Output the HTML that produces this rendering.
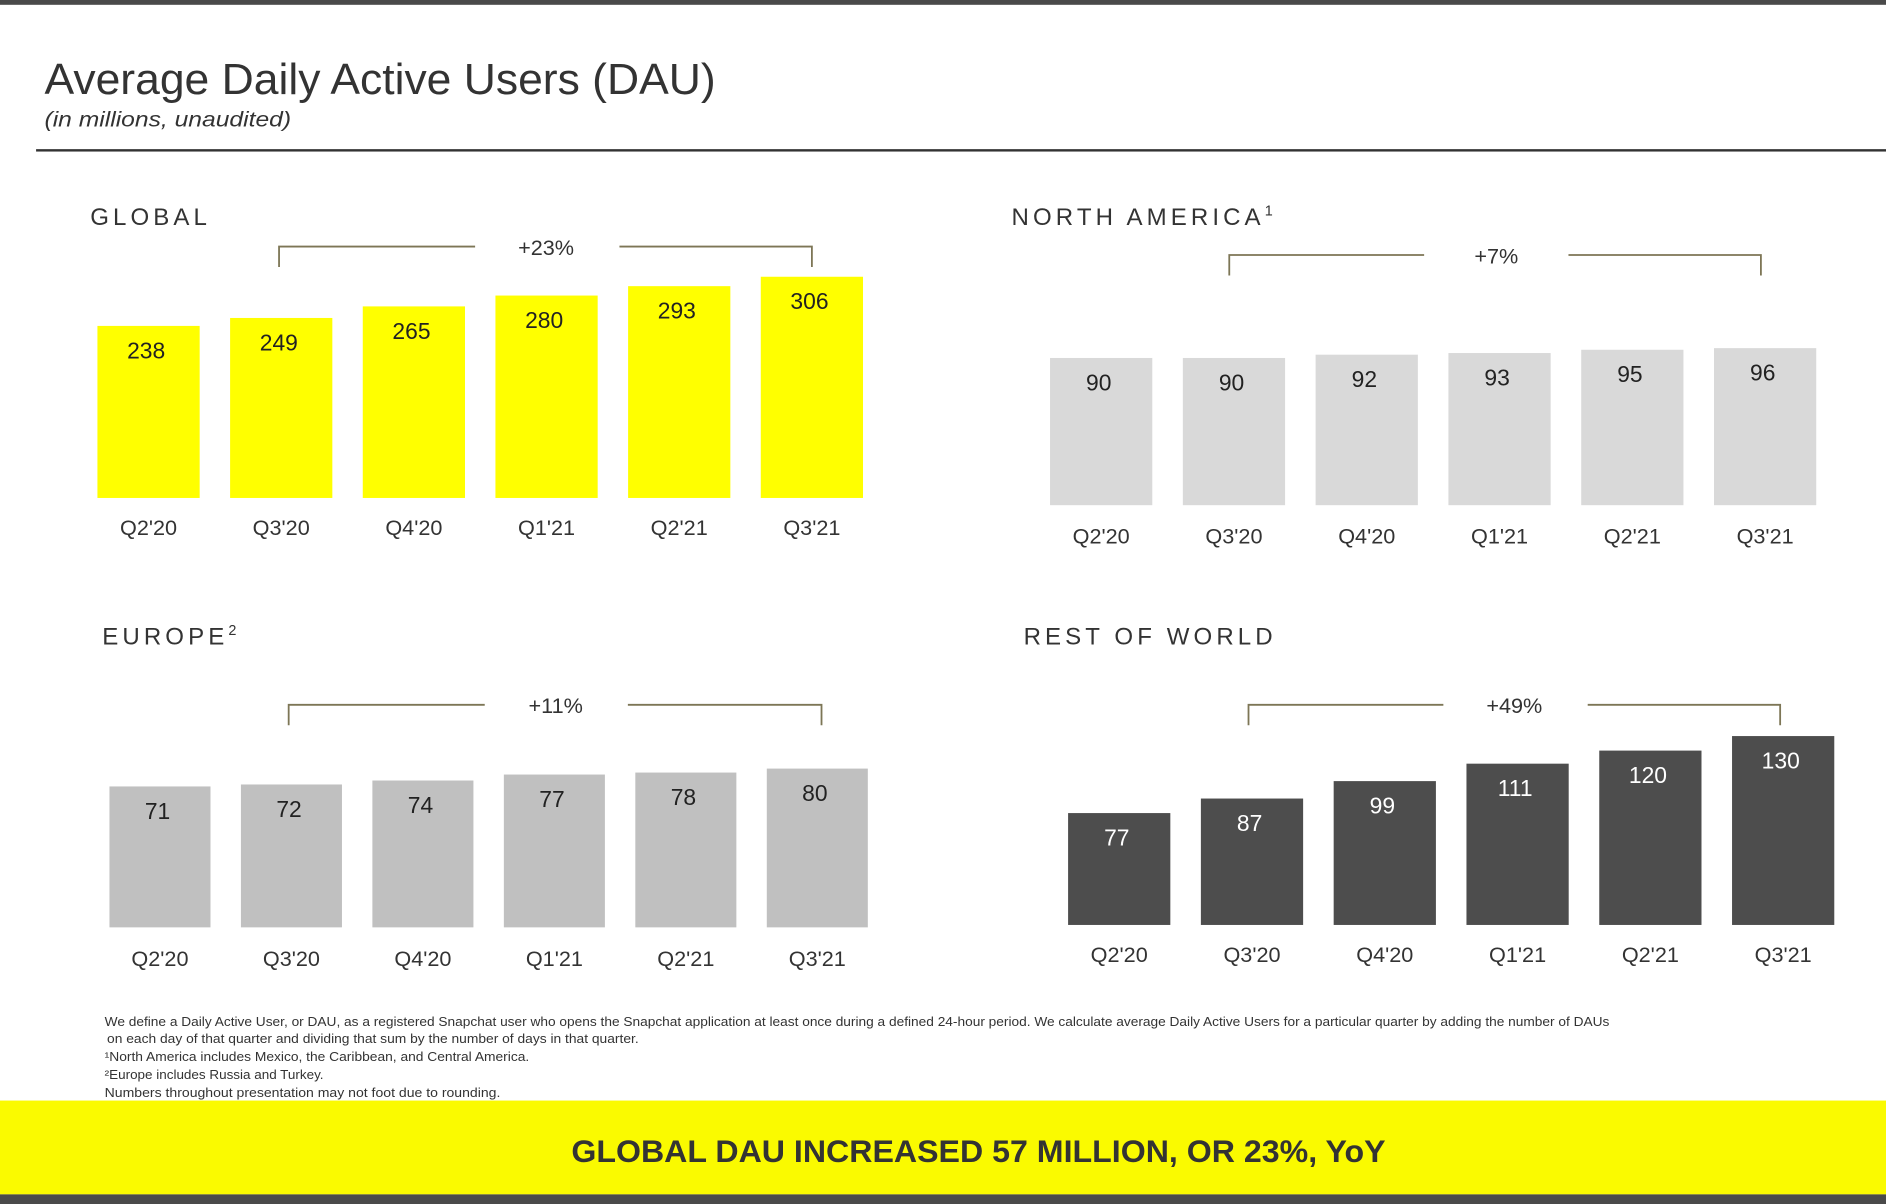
<!DOCTYPE html>
<html><head><meta charset="utf-8"><style>
html,body{margin:0;padding:0;background:#fff;}
svg{display:block;font-family:"Liberation Sans",sans-serif;}
</style></head><body>
<svg id="chart" width="1886" height="1204" viewBox="0 0 1568 1001" preserveAspectRatio="none" xmlns="http://www.w3.org/2000/svg">
<rect x="0" y="0" width="1568" height="4" fill="#4a4a4a"/>
<text x="37" y="78" font-size="36" fill="#333" textLength="558" lengthAdjust="spacingAndGlyphs">Average Daily Active Users (DAU)</text>
<text x="37" y="105" font-size="18" font-style="italic" fill="#333" textLength="205" lengthAdjust="spacingAndGlyphs">(in millions, unaudited)</text>
<rect x="30" y="124" width="1538" height="2" fill="#333"/>
<g id="panels"></g>
<g font-size="10.5" fill="#333">
<text x="87" y="853" textLength="1251" lengthAdjust="spacingAndGlyphs">We define a Daily Active User, or DAU, as a registered Snapchat user who opens the Snapchat application at least once during a defined 24-hour period. We calculate average Daily Active Users for a particular quarter by adding the number of DAUs</text>
<text x="89" y="867" textLength="442" lengthAdjust="spacingAndGlyphs">on each day of that quarter and dividing that sum by the number of days in that quarter.</text>
<text x="87" y="882" textLength="353" lengthAdjust="spacingAndGlyphs">¹North America includes Mexico, the Caribbean, and Central America.</text>
<text x="87" y="897" textLength="182" lengthAdjust="spacingAndGlyphs">²Europe includes Russia and Turkey.</text>
<text x="87" y="912" textLength="329" lengthAdjust="spacingAndGlyphs">Numbers throughout presentation may not foot due to rounding.</text>
</g>
<rect x="0" y="915" width="1568" height="78" fill="#fafa00"/>
<text x="475" y="966" font-size="26" font-weight="bold" fill="#333" textLength="677" lengthAdjust="spacingAndGlyphs">GLOBAL DAU INCREASED 57 MILLION, OR 23%, YoY</text>
<rect x="0" y="993" width="1568" height="8" fill="#4a4a4a"/>
</svg>
<script>
const categories = ["Q2'20","Q3'20","Q4'20","Q1'21","Q2'21","Q3'21"];
const globalValues = [238,249,265,280,293,306];
const naValues = [90,90,92,93,95,96];
const europeValues = [71,72,74,77,78,80];
const rowValues = [77,87,99,111,120,130];
const growthLabels = ["+23%","+7%","+11%","+49%"];

const NS = "http://www.w3.org/2000/svg";
const root = document.getElementById('panels');
function mk(tag, attrs, parent){
  const e = document.createElementNS(NS, tag);
  for (const k in attrs) e.setAttribute(k, attrs[k]);
  parent.appendChild(e); return e;
}
const panels = [
  {name:'global', title:'GLOBAL', sup:'', tx:75, ty:187, x0:81, pitch:110.3, bw:85, base:414, scale:0.601, values:globalValues, color:'#ffff00', text:'#222', catY:445, br:{y:205, x1:232, x2:675, g1:395, g2:515, tx:454, h:17}, growth:growthLabels[0]},
  {name:'north-america', title:'NORTH AMERICA', sup:'1', tx:841, ty:187, x0:873, pitch:110.4, bw:85, base:420, scale:1.36, values:naValues, color:'#d9d9d9', text:'#222', catY:452, br:{y:212, x1:1022, x2:1464, g1:1184, g2:1304, tx:1244, h:17}, growth:growthLabels[1]},
  {name:'europe', title:'EUROPE', sup:'2', tx:85, ty:536, x0:91, pitch:109.3, bw:84, base:771, scale:1.65, values:europeValues, color:'#c0c0c0', text:'#222', catY:803, br:{y:586, x1:240, x2:683, g1:403, g2:522, tx:462, h:17}, growth:growthLabels[2]},
  {name:'rest-of-world', title:'REST OF WORLD', sup:'', tx:851, ty:536, x0:888, pitch:110.4, bw:85, base:769, scale:1.208, values:rowValues, color:'#4d4d4d', text:'#fff', catY:800, br:{y:586, x1:1038, x2:1480, g1:1200, g2:1320, tx:1259, h:17}, growth:growthLabels[3]}
];
panels.forEach(p => {
  const g = mk('g', {}, root);
  
  
  const t = mk('text', {x:p.tx, y:p.ty, 'font-size':20, 'letter-spacing':3.4, fill:'#333'}, g);
  t.textContent = p.title;
  
  
  if (p.sup) { const s = mk('tspan', {'font-size':12, dy:-8}, t); s.textContent = p.sup; }
  const b = p.br;
  const pth = mk('path', {d:`M${b.x1},${b.y+b.h}V${b.y}H${b.g1}M${b.g2},${b.y}H${b.x2}V${b.y+b.h}`, fill:'none', stroke:'#7d7656', 'stroke-width':1.5}, g);
  
  
  const gt = mk('text', {x:b.tx, y:b.y+7, 'font-size':18, fill:'#333', 'text-anchor':'middle'}, g);
  gt.textContent = p.growth;
  
  
  p.values.forEach((v, i) => {
    const x = p.x0 + i * p.pitch;
    const h = v * p.scale;
    const r = mk('rect', {x:x, y:p.base - h, width:p.bw, height:h, fill:p.color}, g);
    
    
    const vl = mk('text', {x:x + p.bw/2 - 2, y:p.base - h + 27, 'font-size':19, fill:p.text, 'text-anchor':'middle'}, g);
    vl.textContent = v;
    
    
    const cl = mk('text', {x:x + p.bw/2, y:p.catY, 'font-size':18, fill:'#333', 'text-anchor':'middle'}, g);
    cl.textContent = categories[i];
    
    
  });
});
</script>
</body></html>
